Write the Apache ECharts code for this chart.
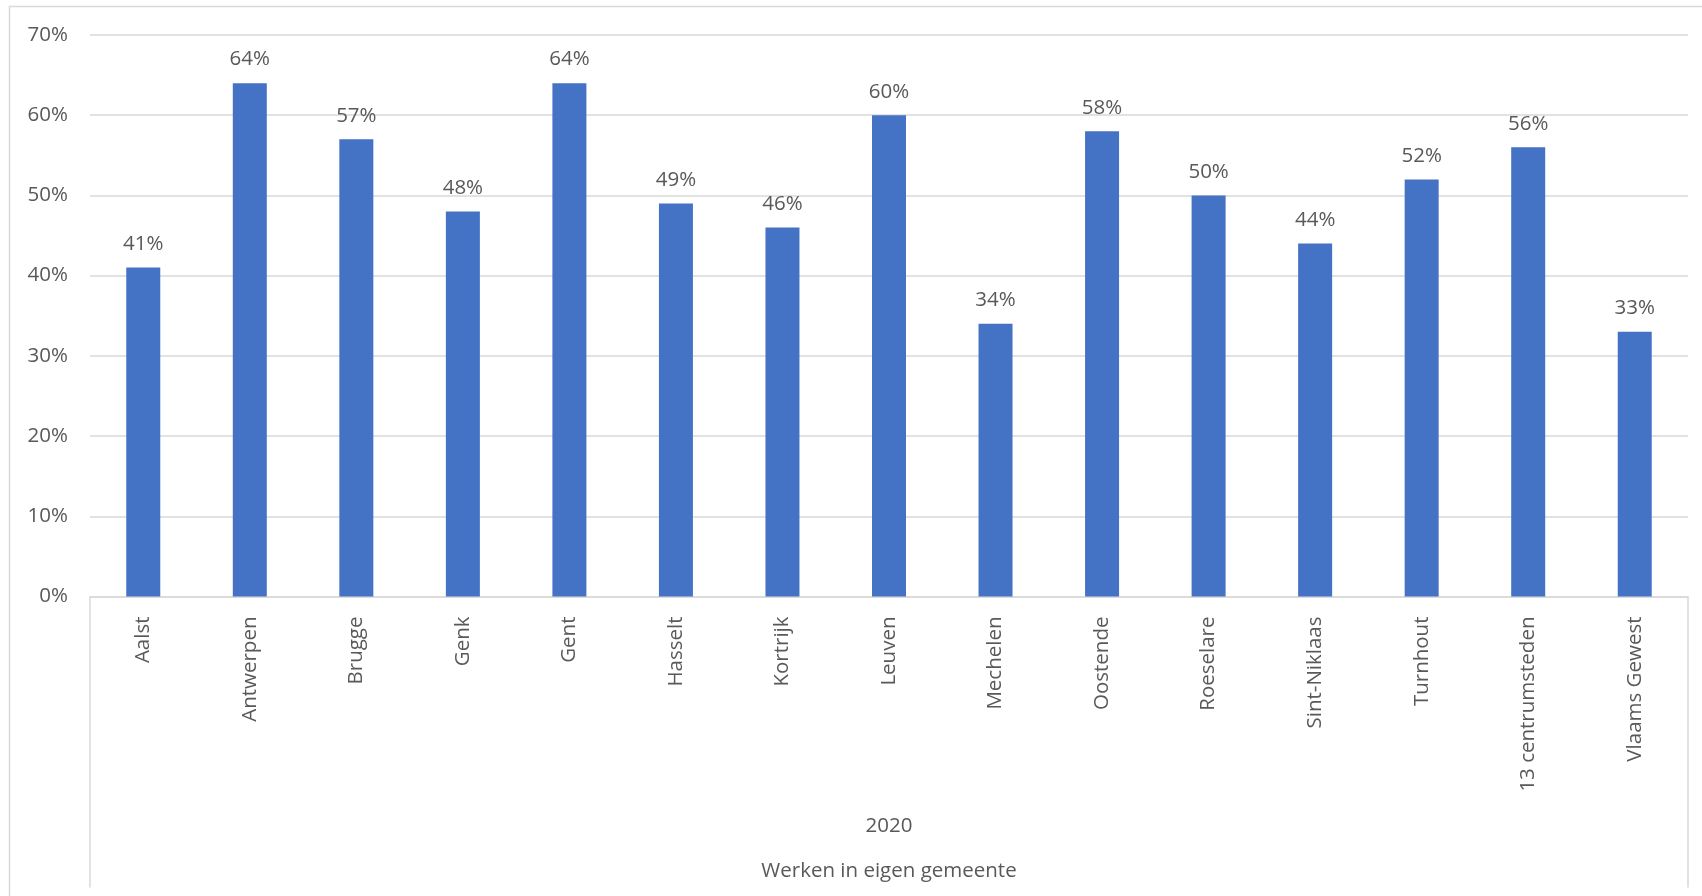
<!DOCTYPE html>
<html>
<head>
<meta charset="utf-8">
<script src="https://cdn.jsdelivr.net/npm/echarts@6/dist/echarts.min.js"></script>
<style>
html,body{margin:0;padding:0;background:#fff;}
#chart{width:1702px;height:896px;}
</style>
</head>
<body>
<div id="chart"></div>
<script>
const categories = ['Aalst','Antwerpen','Brugge','Genk','Gent','Hasselt','Kortrijk','Leuven','Mechelen','Oostende','Roeselare','Sint-Niklaas','Turnhout','13 centrumsteden','Vlaams Gewest'];
const values = [0.41,0.64,0.57,0.48,0.64,0.49,0.46,0.60,0.34,0.58,0.50,0.44,0.52,0.56,0.33];
const groupLevel1 = ['2020'];
const groupLevel2 = ['Werken in eigen gemeente'];
const yTicks = {min:0, max:0.7, interval:0.1};

const FONT = '"Open Sans"';
const TXT = '#595959';
const LINE = '#d9d9d9';
const FS = 20.5;

const chart = echarts.init(document.getElementById('chart'));
chart.setOption({
  backgroundColor:'#fff',
  animation:false,
  textStyle:{fontFamily:FONT},
  graphic:[{
    type:'rect', shape:{x:9.5,y:6.5,width:1700,height:900},
    style:{fill:'none',stroke:LINE,lineWidth:1.5}, silent:true
  }],
  grid:{left:90,right:14,top:35,bottom:299.5,containLabel:false},
  xAxis:[{
    type:'category', data:categories, position:'bottom', gridIndex:0,
    axisLine:{show:true,lineStyle:{color:LINE,width:1.5}},
    axisTick:{show:false},
    axisLabel:{rotate:90,margin:20,color:TXT,fontSize:FS,fontFamily:FONT,interval:0}
  },{
    type:'category', data:groupLevel1, position:'bottom', gridIndex:0,
    axisLine:{show:false},
    axisTick:{show:true,length:291,lineStyle:{color:LINE,width:1.5}},
    axisLabel:{margin:219,color:TXT,fontSize:FS,fontFamily:FONT}
  },{
    type:'category', data:groupLevel2, position:'bottom', gridIndex:0,
    axisLine:{show:false},
    axisTick:{show:false},
    axisLabel:{margin:264,color:TXT,fontSize:FS,fontFamily:FONT}
  }],
  yAxis:{
    type:'value', min:yTicks.min, max:yTicks.max, interval:yTicks.interval,
    axisLine:{show:false}, axisTick:{show:false},
    splitLine:{lineStyle:{color:LINE,width:1.5}},
    axisLabel:{margin:22,color:TXT,fontSize:FS,fontFamily:FONT,
      formatter:v=>Math.round(v*100)+'%'}
  },
  series:[{
    type:'bar', data:values, xAxisIndex:0, barWidth:34,
    itemStyle:{color:'#4472C4'},
    label:{show:true,position:'top',distance:13,color:TXT,fontSize:FS,fontFamily:FONT,
      formatter:p=>Math.round(p.value*100)+'%'}
  }]
});
</script>
</body>
</html>
